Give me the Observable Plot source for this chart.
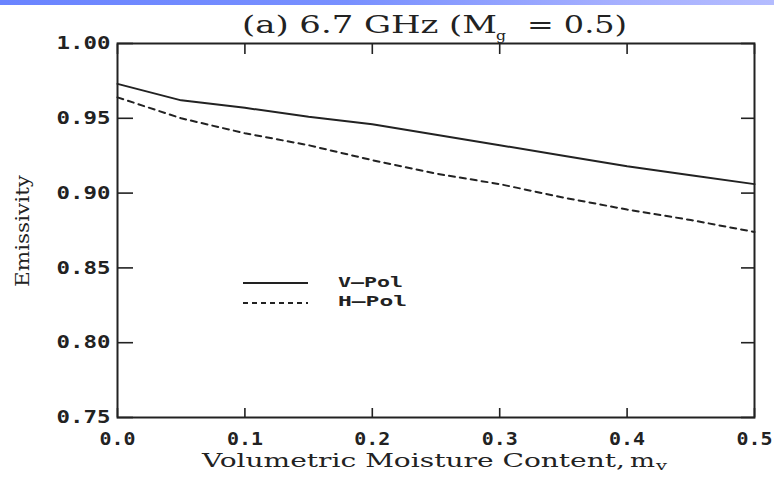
<!DOCTYPE html>
<html>
<head>
<meta charset="utf-8">
<script src="https://cdn.jsdelivr.net/npm/d3@7"></script>
<script src="https://cdn.jsdelivr.net/npm/@observablehq/plot@0.6"></script>
<style>
  html, body { margin: 0; padding: 0; background: #fff; }
  #wrap { position: relative; width: 774px; height: 478px; overflow: hidden; }
  #bar { position: absolute; left: 0; top: 0; width: 774px; height: 5px;
         background: linear-gradient(to right, #6a84ff 0%, #7890ff 45%, #a6b0ff 80%, #b4bcff 100%); }
</style>
</head>
<body>
<div id="wrap"><div id="bar"></div></div>
<script>
// ---- data ----
const mv   = [0, 0.05, 0.1, 0.15, 0.2, 0.25, 0.3, 0.35, 0.4, 0.45, 0.5];
const vPol = [0.973, 0.962, 0.957, 0.951, 0.946, 0.939, 0.932, 0.925, 0.918, 0.912, 0.906];
const hPol = [0.964, 0.950, 0.940, 0.932, 0.922, 0.913, 0.906, 0.897, 0.889, 0.882, 0.874];
const xTicks = [0, 0.1, 0.2, 0.3, 0.4, 0.5];
const yTicks = [0.75, 0.80, 0.85, 0.90, 0.95, 1.00];
const seriesNames = ["V\u2013Pol", "H\u2013Pol"];

const table = mv.map((m, i) => ({mv: m, v: vPol[i], h: hPol[i]}));
const ink = "#222";

const plot = Plot.plot({
  width: 774,
  height: 478,
  marginLeft: 117,
  marginRight: 20,
  marginTop: 43,
  marginBottom: 61,
  style: {fontFamily: "DejaVu Sans Mono", fontSize: "18px", fontWeight: "bold", color: ink, background: "transparent"},
  x: {domain: [0, 0.5], label: null},
  y: {domain: [0.75, 1.0], label: null},
  marks: [
    Plot.line(table, {x: "mv", y: "v", stroke: ink, strokeWidth: 2}),
    Plot.line(table, {x: "mv", y: "h", stroke: ink, strokeWidth: 2, strokeDasharray: "6,5"}),
    // inward ticks
    Plot.axisX(xTicks, {anchor: "bottom", tickSize: -9, tickFormat: () => "", label: null, strokeWidth: 1.6}),
    Plot.axisX(xTicks, {anchor: "top", tickSize: -10, tickFormat: () => "", label: null, strokeWidth: 1.6}),
    Plot.axisY(yTicks, {anchor: "left", tickSize: -16, tickFormat: () => "", label: null, strokeWidth: 1.6}),
    Plot.axisY(yTicks, {anchor: "right", tickSize: -14, tickFormat: () => "", label: null, strokeWidth: 1.6}),
    // tick labels
    Plot.axisX(xTicks, {anchor: "bottom", tickSize: 0, tickPadding: 15, tickFormat: d3.format(".1f"), label: null, fill: ink}),
    Plot.axisY(yTicks, {anchor: "left", tickSize: 0, tickPadding: 7, tickFormat: d3.format(".2f"), label: null, fill: ink}),
    Plot.frame({stroke: ink, strokeWidth: 2})
  ]
});

document.getElementById("wrap").appendChild(plot);
const svg = d3.select(plot);

svg.selectAll('[aria-label="y-axis tick label"] text')
  .attr("textLength", 54).attr("lengthAdjust", "spacingAndGlyphs");
svg.selectAll('[aria-label="x-axis tick label"] text')
  .attr("textLength", 36).attr("lengthAdjust", "spacingAndGlyphs");

function addText(str, x, y, size, len, opts = {}) {
  const t = svg.append("text")
    .attr("x", x).attr("y", y)
    .attr("font-family", opts.family || "DejaVu Serif")
    .attr("font-size", size)
    .attr("font-weight", opts.weight || "normal")
    .attr("fill", ink)
    .attr("text-anchor", opts.anchor || "start")
    .text(str);
  if (len) t.attr("textLength", len).attr("lengthAdjust", "spacingAndGlyphs");
  if (opts.transform) t.attr("transform", opts.transform);
  return t;
}

// title
addText("(a) 6.7 GHz (M", 242, 33, 24, 255);
addText("g", 496, 40, 13, 10);
addText("= 0.5)", 527, 33, 24, 100);

// x-axis label
addText("Volumetric Moisture Content,", 202, 467, 19, 423);
addText("m", 630, 467, 19, 25);
addText("v", 656, 470, 12, 11);

// y-axis label
addText("Emissivity", 0, 0, 19, 112, {anchor: "middle", transform: "translate(29,231) rotate(-90)"});

// legend
svg.append("line").attr("x1", 243).attr("x2", 308).attr("y1", 283).attr("y2", 283)
  .attr("stroke", ink).attr("stroke-width", 2);
svg.append("line").attr("x1", 243).attr("x2", 308).attr("y1", 303).attr("y2", 303)
  .attr("stroke", ink).attr("stroke-width", 2).attr("stroke-dasharray", "5,4");
addText(seriesNames[0], 338, 287, 14, 65, {family: "DejaVu Sans Mono", weight: "bold"});
addText(seriesNames[1], 338, 306, 14, 69, {family: "DejaVu Sans Mono", weight: "bold"});
</script>
</body>
</html>
